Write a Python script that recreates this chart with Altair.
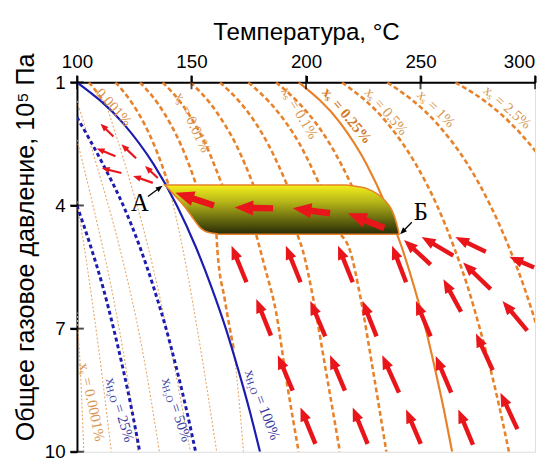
import math
import altair as alt
import pandas as pd

# ---------------- data ----------------
T_TICKS = [100, 150, 200, 250, 300]
P_TICKS = [1, 4, 7, 10]
P10 = [1, 2, 3, 4, 5, 6, 7, 8, 9, 10]

# water saturation (x_H2O = 100 %), 50 %, 25 %
w100_P = P10
w100_T = [100, 120.2, 133.5, 143.6, 151.8, 158.8, 165.0, 170.4, 175.4, 179.9]
w50_P = [1.85, 3, 4, 5, 6, 7, 8, 9, 10]
w50_T = [100, 111.4, 120.2, 127.4, 133.5, 138.9, 143.6, 147.9, 151.8]
w25_P = [4, 5, 6, 7, 8, 9, 10]
w25_T = [100, 106.0, 111.4, 116.0, 120.2, 124.0, 127.4]

# thick dashed x_s curves above the two-phase region
L1_P = [1, 1.3, 1.6];                   L1_T = [105.2, 109.5, 113.1]
L2_P = [1, 1.5, 2, 2.5, 3, 3.5];        L2_T = [116.8, 124.0, 129.3, 133.5, 137.0, 140.0]
U_P = [1, 1.5, 2, 2.5, 3, 3.6]
L3_T = [127.5, 135.1, 140.7, 145.2, 148.9, 152.7]
L4_T = [137.4, 145.4, 151.3, 156.1, 159.9, 164.0]
L5_T = [149.5, 158.0, 164.2, 169.3, 173.4, 177.7]
L6_T = [162.4, 171.4, 178.1, 183.4, 187.8, 192.5]
L7_T = [174.8, 184.3, 191.5, 197.2, 201.8, 206.8]
L8_T = [186.9, 196.8, 204.4, 210.4, 215.4, 220.7]
# thick dashed x_s curves below the two-phase region
M1_P = [4.70, 5.08, 6.28, 7.48];        M1_T = [160.9, 161.3, 164.5, 168.4]
M2_P = [4.72, 5.5, 6.59, 8.3, 10];      M2_T = [178.3, 182.0, 186.9, 191.6, 196.8]
M3_P = [4.72, 5.08, 6.28, 8.0, 10];     M3_T = [196.3, 198.5, 203.2, 208.6, 214.8]
M4_P = [4.72, 5.08, 6.28, 8.0, 10];     M4_T = [215.3, 219.1, 223.9, 229.2, 235.1]
# solid 0.25 % and the curves to its right
S25_T = [196.8, 215.1, 226.5, 234.9, 241.7, 247.3, 252.2, 256.4, 260.3, 263.8]
L10_T = [215.7, 235.6, 248.0, 257.2, 264.5, 270.7, 275.9, 280.6, 284.8, 288.6]
L11_P = [1, 2, 3, 4, 5, 6, 7];          L11_T = [235.5, 257.1, 270.6, 280.5, 288.5, 295.3, 301.1]
L12_P = [1, 1.5, 2, 2.5, 2.7];          L12_T = [265.2, 279.1, 289.4, 297.6, 300.5]

# thin dotted x_s curves (condensed-water region)
t1_P = [6.6, 8, 10];              t1_T = [100, 101.5, 103.0]
t2_P = [3.9, 5.5, 7.5, 10];       t2_T = [100, 104.5, 109.5, 115.0]
t3_P = [2.4, 4, 6, 8, 10];        t3_T = [100, 107, 115, 121.5, 126.7]
t4_P = [1.45, 3, 5, 7.5, 10];     t4_T = [100, 108.5, 118.5, 128.5, 136.0]
t5_P = [1.6, 3, 5, 7.5, 10];      t5_T = [113.1, 121.0, 131.0, 141.0, 149.5]
t6_P = [3.5, 5, 7.5, 10];         t6_T = [140.0, 146.0, 154.0, 161.0]
t7_P = [7.48, 9, 10];             t7_T = [168.4, 171.2, 172.7]

# two-phase region between A and Б
blob_P = [3.50, 3.55, 3.65, 3.80, 4.00, 4.25, 4.45, 4.58, 4.66, 4.70]
blob_TL = [138.3, 139.2, 140.9, 143.4, 146.6, 149.9, 152.5, 154.6, 157.6, 161.9]
blob_TR = [217.8, 223.9, 229.0, 233.0, 236.3, 238.5, 239.6, 240.2, 240.5, 240.6]

# red arrows: tail (T, P) -> head (T, P)
small_T0 = [115.9, 125.8, 116.8, 135.3, 119.4, 133.1]
small_P0 = [2.32, 2.85, 2.80, 3.33, 3.21, 3.45]
small_T1 = [110.3, 119.4, 108.6, 129.7, 110.8, 124.5]
small_P1 = [2.01, 2.51, 2.61, 3.04, 3.09, 3.28]

big_T0 = [159.8, 185.6, 210.5, 234.2]
big_P0 = [4.00, 4.07, 4.19, 4.55]
big_T1 = [143.0, 168.8, 194.2, 218.3]
big_P1 = [3.69, 4.05, 4.07, 4.19]

fld_T0 = [174.0, 197.6, 220.4, 243.7, 184.7, 208.4, 230.8, 254.4, 194.2, 217.0, 240.6, 263.4,
          204.1, 226.9, 250.1, 272.9, 254.4, 264.3, 278.5, 299.6, 280.6, 267.7, 296.6, 281.5, 292.3]
fld_P0 = [5.87, 5.87, 5.87, 5.87, 7.17, 7.19, 7.19, 7.19, 8.51, 8.51, 8.56, 8.56,
          9.81, 9.81, 9.81, 9.83, 5.44, 5.22, 5.13, 5.51, 6.04, 6.59, 7.05, 8.01, 9.45]
fld_T1 = [167.5, 191.2, 214.0, 237.6, 178.3, 201.9, 224.7, 248.0, 187.7, 210.5, 233.3, 256.6,
          197.6, 220.4, 243.7, 266.5, 242.8, 250.5, 265.2, 288.8, 268.6, 260.0, 285.8, 274.2, 284.9]
fld_P1 = [4.98, 4.98, 4.98, 4.98, 6.28, 6.33, 6.33, 6.33, 7.65, 7.65, 7.65, 7.67,
          8.92, 8.92, 8.97, 8.97, 4.84, 4.77, 4.77, 5.25, 5.39, 5.80, 6.33, 7.12, 8.56]

# black pointer arrows to A and Б
ptr_T0 = [131.0, 246.2]; ptr_P0 = [3.78, 4.41]
ptr_T1 = [137.4, 241.1]; ptr_P1 = [3.52, 4.70]
pt_names = ["А", "Б"]; pt_T = [127.5, 250.1]; pt_P = [3.95, 4.17]

# curve labels (start point, angle)
xs_T = [144.3, 190.8, 226.9, 249.7, 278.5, 103.0]
xs_P = [1.26, 1.14, 1.17, 1.24, 1.14, 7.84]
xs_ang = [64, 59, 49, 45, 41, 78]
xs_txt = ["= 0.01%", "= 0.1%", "= 0.5%", "= 1%", "= 2.5%", "= 0.0001%"]
xs25_T = [208.4]; xs25_P = [1.17]; xs25_ang = [50]; xs25_txt = ["= 0.25%"]
top_T = [109.5]; top_P = [1.19]; top_ang = [48]; top_txt = ["0.001%"]
h_T = [114.6, 139.1, 175.3]
h_P = [8.20, 8.20, 8.01]
h_ang = [73, 72, 69]
h_txt = ["= 25%", "= 50%", "= 100%"]

# ---------------- styling / helpers ----------------
W, H = 465, 375
SX = W / 200.0
SY = H / 9.0
ORANGE = "#E8822A"
THIN = "#E6A867"
BLUE = "#1C1CB0"
RED = "#E8151B"
LAB_OR = "#D8964F"
LAB_BL = "#3C3CA0"
LAST_T = T_TICKS[-1]

x_axis = alt.Axis(orient="top", values=T_TICKS, title="Температура, °C", grid=False,
                  titleFont="Liberation Sans", titleFontSize=24.5, titleFontWeight="normal",
                  titleColor="black", titlePadding=8, labelFont="Liberation Sans",
                  labelFontSize=19, labelColor="black", labelPadding=4, labelFlush=False,
                  labelExpr=f"datum.value == {LAST_T} ? '' : datum.label",
                  tickSize=7, tickWidth=2, tickColor="black", domainColor="black", domainWidth=2)
y_axis = alt.Axis(orient="left", values=P_TICKS, title="Общее газовое давление, 10⁵ Па", grid=False,
                  titleFont="Liberation Sans", titleFontSize=25.5, titleFontWeight="normal",
                  titleColor="black", titlePadding=6, titleY=167, labelFont="Liberation Sans",
                  labelFontSize=19, labelColor="black", labelPadding=5, labelFlush=False,
                  tickSize=7, tickWidth=2, tickColor="black", domainColor="black", domainWidth=2)
xs = alt.Scale(domain=[100, 300], nice=False, zero=False)
ys = alt.Scale(domain=[1, 10], reverse=True, nice=False, zero=False)


def X(f="T"):
    return alt.X(f"{f}:Q", scale=xs, axis=x_axis)


def Y(f="P"):
    return alt.Y(f"{f}:Q", scale=ys, axis=y_axis)


def curves(pairs):
    rows = []
    for cid, (pl, tl) in pairs.items():
        for i, (p, t) in enumerate(zip(pl, tl)):
            rows.append({"id": cid, "P": p, "T": t, "o": i})
    return pd.DataFrame(rows)


def line_layer(df, color, width, dash=None):
    kw = dict(color=color, strokeWidth=width, clip=True, interpolate="monotone")
    if dash:
        kw["strokeDash"] = dash
    return alt.Chart(df).mark_line(**kw).encode(x=X(), y=Y(), detail="id:N", order="o:Q")


def arrows(T0, P0, T1, P1, color, shaft, head):
    rows = []
    for a, b, c, d in zip(T0, P0, T1, P1):
        dx = (c - a) * SX
        dy = (d - b) * SY
        L = math.hypot(dx, dy)
        ux, uy = dx / L, dy / L
        cut = 0.7 * head
        rows.append({"T": a, "P": b, "Ts": c - ux * cut / SX, "Ps": d - uy * cut / SY,
                     "Th": c, "Ph": d, "ang": (math.degrees(math.atan2(dx, -dy)) + 360) % 360})
    df = pd.DataFrame(rows)
    shaft_l = alt.Chart(df).mark_rule(color=color, strokeWidth=shaft, strokeCap="butt").encode(
        x=X(), y=Y(), x2="Ts:Q", y2="Ps:Q")
    head_l = alt.Chart(df).mark_point(shape="M0,0 L0.8,2 L-0.8,2 Z", filled=True, color=color,
                                      opacity=1, size=head * head, strokeWidth=0).encode(
        x=X("Th"), y=Y("Ph"), angle=alt.Angle("ang:Q", scale=None))
    return [shaft_l, head_l]


def label_layers(T, P, ang, rest, sub, color, sub_dx, rest_dx, weight="normal", main="x"):
    df = pd.DataFrame({"T": T, "P": P, "ang": ang, "rest": rest})
    base = alt.Chart(df)
    common = dict(font="Liberation Serif", color=color, align="left", baseline="middle",
                  fontWeight=weight)
    ls = []
    if main:
        ls.append(base.mark_text(fontSize=15, **common).encode(
            x=X(), y=Y(), angle=alt.Angle("ang:Q", scale=None), text=alt.value(main)))
    if sub:
        ls.append(base.mark_text(fontSize=10, dx=sub_dx, dy=4, **common).encode(
            x=X(), y=Y(), angle=alt.Angle("ang:Q", scale=None), text=alt.value(sub)))
    ls.append(base.mark_text(fontSize=15, dx=rest_dx, **common).encode(
        x=X(), y=Y(), angle=alt.Angle("ang:Q", scale=None), text="rest:N"))
    return ls


# ---------------- layers ----------------
thin_df = curves({"t1": (t1_P, t1_T), "t2": (t2_P, t2_T), "t3": (t3_P, t3_T), "t4": (t4_P, t4_T),
                  "t5": (t5_P, t5_T), "t6": (t6_P, t6_T), "t7": (t7_P, t7_T)})
thick_df = curves({"L1": (L1_P, L1_T), "L2": (L2_P, L2_T), "L3": (U_P, L3_T), "L4": (U_P, L4_T),
                   "L5": (U_P, L5_T), "L6": (U_P, L6_T), "L7": (U_P, L7_T), "L8": (U_P, L8_T),
                   "M1": (M1_P, M1_T), "M2": (M2_P, M2_T), "M3": (M3_P, M3_T), "M4": (M4_P, M4_T),
                   "L10": (P10, L10_T), "L11": (L11_P, L11_T), "L12": (L12_P, L12_T)})
solid_df = curves({"S": (P10, S25_T)})
bdash_df = curves({"w25": (w25_P, w25_T), "w50": (w50_P, w50_T)})
bsolid_df = curves({"w100": (w100_P, w100_T)})

layers = []
layers.append(line_layer(thin_df, THIN, 1.1, [2, 2]))
layers.append(line_layer(thick_df, ORANGE, 2.6, [5, 3]))
layers.append(line_layer(solid_df, ORANGE, 2.2))
layers.append(line_layer(bdash_df, BLUE, 3, [4, 3]))
layers.append(line_layer(bsolid_df, BLUE, 2.2))

blob_df = pd.DataFrame({"P": blob_P, "TL": blob_TL, "TR": blob_TR})
grad = alt.Gradient(gradient="linear", x1=0, x2=0, y1=0, y2=1,
                    stops=[alt.GradientStop(offset=0, color="#F4F01C"),
                           alt.GradientStop(offset=0.35, color="#B4B418"),
                           alt.GradientStop(offset=1, color="#262A06")])
layers.append(alt.Chart(blob_df).mark_area(orient="horizontal", interpolate="monotone", color=grad,
                                           stroke=ORANGE, strokeWidth=1.6, opacity=1).encode(
    x=X("TL"), x2="TR:Q", y=Y()))

layers += arrows(small_T0, small_P0, small_T1, small_P1, RED, 2.2, 8)
layers += arrows(big_T0, big_P0, big_T1, big_P1, RED, 6.5, 19)
layers += arrows(fld_T0, fld_P0, fld_T1, fld_P1, RED, 4.5, 14)
layers += arrows(ptr_T0, ptr_P0, ptr_T1, ptr_P1, "black", 1.3, 7)

pt_df = pd.DataFrame({"T": pt_T, "P": pt_P, "n": pt_names})
layers.append(alt.Chart(pt_df).mark_text(font="Liberation Serif", fontSize=25, color="black").encode(
    x=X(), y=Y(), text="n:N"))

layers += label_layers(xs_T, xs_P, xs_ang, xs_txt, "s", LAB_OR, 7, 15)
layers += label_layers(xs25_T, xs25_P, xs25_ang, xs25_txt, "s", "#D47A28", 7, 16, weight="bold")
layers += label_layers(top_T, top_P, top_ang, top_txt, None, LAB_OR, 0, 0, main=None)
layers += label_layers(h_T, h_P, h_ang, h_txt, "H₂O", LAB_BL, 7, 28)

# ticks crossing the axes
yt_df = pd.DataFrame({"T": [100] * len(P_TICKS), "P": P_TICKS})
xt_df = pd.DataFrame({"T": T_TICKS, "P": [1] * len(T_TICKS)})
layers.append(alt.Chart(yt_df).mark_tick(orient="horizontal", size=14, thickness=2, color="black").encode(
    x=X(), y=Y()))
layers.append(alt.Chart(xt_df).mark_tick(orient="vertical", size=14, thickness=2, color="black").encode(
    x=X(), y=Y()))
# last top-axis label, flush with the right edge of the frame
last_df = pd.DataFrame({"T": [LAST_T], "P": [1], "lab": [str(LAST_T)]})
layers.append(alt.Chart(last_df).mark_text(font="Liberation Sans", fontSize=19, color="black",
                                           align="right", baseline="bottom", dy=-11).encode(
    x=X(), y=Y(), text="lab:N"))

chart = alt.layer(*layers).properties(
    width=W, height=H,
    autosize=alt.AutoSizeParams(type="none"),
    padding={"left": 70, "top": 72, "right": 3, "bottom": 10}
).configure_view(stroke="black", strokeWidth=2).configure(background="white")

chart.save("out.html", embed_options={"renderer": "svg", "actions": False})
